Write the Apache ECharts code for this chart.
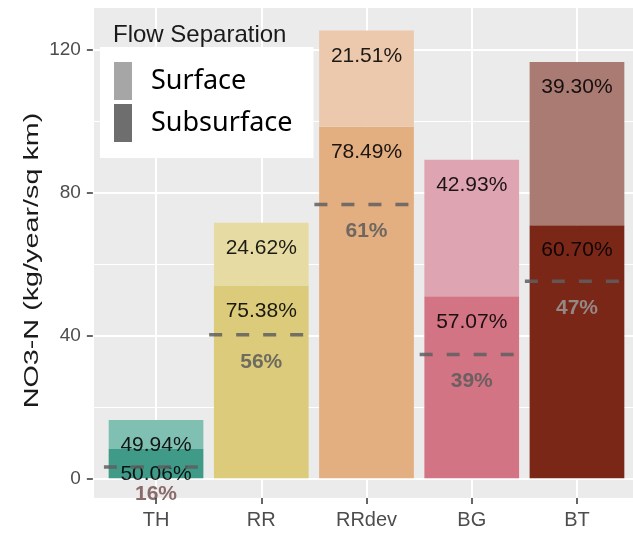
<!DOCTYPE html>
<html>
<head>
<meta charset="utf-8">
<script src="https://cdn.jsdelivr.net/npm/echarts@6/dist/echarts.min.js"></script>
<style>html,body{margin:0;padding:0;background:#fff}#c{width:633px;height:536px}</style>
</head>
<body>
<div id="c"></div>
<script>
// ---- data ----
const categories = ['TH', 'RR', 'RRdev', 'BG', 'BT'];
const subsurface = [8.2, 54.0, 98.5, 51.0, 70.9];
const surface = [8.1, 17.6, 26.9, 38.2, 45.7];
const subsurfaceLabels = ['50.06%', '75.38%', '78.49%', '57.07%', '60.70%'];
const surfaceLabels = ['49.94%', '24.62%', '21.51%', '42.93%', '39.30%'];
const dashValues = [3.2, 40.2, 76.7, 34.7, 55.2];
const dashLabels = ['16%', '56%', '61%', '39%', '47%'];
const yTicks = [0, 40, 80, 120];

// ---- styles ----
const subColors = ['#3f9a88', '#dccb7b', '#e3ae80', '#d37484', '#7b2718'];
const surfColors = ['#80c0b3', '#e6dca3', '#ecc9ad', '#dfa4b1', '#aa7b73'];
const dashLabelColors = ['#8a6a6a', 'rgba(90,90,90,0.85)', 'rgba(90,90,90,0.85)', 'rgba(90,90,90,0.85)', 'rgba(150,140,138,0.95)'];
const FONT = '"Liberation Sans", Arial, sans-serif';

const chart = echarts.init(document.getElementById('c'), null, {renderer: 'canvas'});

const labelStyle = {
  show: true, position: 'insideTop', distance: 15,
  fontFamily: FONT, fontSize: 21, color: 'rgba(0,0,0,0.88)'
};

const option = {
  animation: false,
  backgroundColor: '#fff',
  grid: [
    {left: 92.85, right: -7.15, top: 8, bottom: 38, show: true, backgroundColor: '#EBEBEB', borderWidth: 0, outerBoundsMode: 'none', containLabel: false},
    {left: 92.85, right: -7.15, top: -92.9, bottom: -85.1, outerBoundsMode: 'none', containLabel: false},
    {left: 103.4, right: 3.4, top: -92.9, bottom: -85.1, outerBoundsMode: 'none', containLabel: false}
  ],
  xAxis: [
    {gridIndex: 0, type: 'value', min: -0.6, max: 4.6,
     axisLine: {show: false}, axisTick: {show: false}, axisLabel: {show: false},
     splitLine: {show: true, lineStyle: {color: '#fff', width: 2}}},
    {gridIndex: 1, type: 'value', min: 0, max: 1, show: false},
    {gridIndex: 2, type: 'category', data: categories, position: 'bottom', offset: -123.1, z: 5,
     axisLine: {show: false, onZero: false},
     axisTick: {show: true, alignWithLabel: true, length: 6, lineStyle: {color: '#333', width: 1.5}},
     axisLabel: {margin: 12, fontFamily: FONT, fontSize: 20, color: '#4d4d4d'},
     splitLine: {show: false}}
  ],
  yAxis: [
    {gridIndex: 0, type: 'value', min: 0, max: 1, show: false},
    {gridIndex: 1, type: 'value', min: -40, max: 160, interval: 40,
     axisLine: {show: false},
     axisTick: {show: true, length: 6, lineStyle: {color: '#333', width: 1.5}},
     axisLabel: {margin: 12, fontFamily: FONT, fontSize: 19, color: '#4d4d4d',
       formatter: v => (yTicks.indexOf(v) >= 0 ? String(v) : '')},
     splitLine: {show: true, lineStyle: {color: '#fff', width: 2}},
     minorTick: {show: false, splitNumber: 2},
     minorSplitLine: {show: true, lineStyle: {color: '#fff', width: 1}}},
    {gridIndex: 2, type: 'value', min: -40, max: 160, show: false}
  ],
  legend: {
    orient: 'vertical', left: 100, top: 47,
    padding: [15, 21, 16, 14], backgroundColor: '#fff',
    itemWidth: 18, itemHeight: 38, itemGap: 4, icon: 'rect',
    selectedMode: false,
    data: ['Surface', 'Subsurface'],
    textStyle: {fontFamily: '"Noto Sans", sans-serif', fontSize: 27, color: '#000', padding: [0, 0, 4, 14]}
  },
  graphic: [
    {type: 'text', x: 113, y: 35, style: {text: 'Flow Separation', font: '24px ' + FONT, fill: '#1a1a1a', verticalAlign: 'middle', align: 'left'}, z: 100},
    {type: 'text', x: 32, y: 260.5, rotation: Math.PI / 2, scaleX: 1.37,
     style: {text: 'NO3-N (kg/year/sq km)', font: '21px ' + FONT, fill: '#1a1a1a', align: 'center', verticalAlign: 'middle'}}
  ],
  series: [
    {name: 'Subsurface', type: 'bar', xAxisIndex: 2, yAxisIndex: 2, stack: 'flow', barWidth: '90%',
     itemStyle: {color: '#6e6e6e'},
     data: subsurface.map((v, i) => ({value: v, itemStyle: {color: subColors[i]}})),
     label: Object.assign({}, labelStyle, {formatter: p => subsurfaceLabels[p.dataIndex]})},
    {name: 'Surface', type: 'bar', xAxisIndex: 2, yAxisIndex: 2, stack: 'flow', barWidth: '90%',
     itemStyle: {color: '#a6a6a6'},
     data: surface.map((v, i) => ({value: v, itemStyle: {color: surfColors[i]}})),
     label: Object.assign({}, labelStyle, {formatter: p => surfaceLabels[p.dataIndex]})},
    {name: 'dash', type: 'custom', xAxisIndex: 2, yAxisIndex: 2, z: 4,
     data: dashValues.map((v, i) => [i, v]),
     renderItem: function (params, api) {
       const i = api.value(0);
       const pt = api.coord([i, api.value(1)]);
       const bw = api.size([1, 0])[0];
       return {type: 'group', children: [
         {type: 'line', shape: {x1: pt[0] - 0.495 * bw, y1: pt[1], x2: pt[0] + 0.42 * bw, y2: pt[1]},
          style: {stroke: 'rgba(95,95,95,0.85)', lineWidth: 3.5, lineDash: [13, 14]}},
         {type: 'text', x: pt[0], y: pt[1] + 27,
          style: {text: dashLabels[i], font: 'bold 21px ' + FONT, fill: dashLabelColors[i], align: 'center', verticalAlign: 'middle'}}
       ]};
     }}
  ]
};
chart.setOption(option);
</script>
</body>
</html>
